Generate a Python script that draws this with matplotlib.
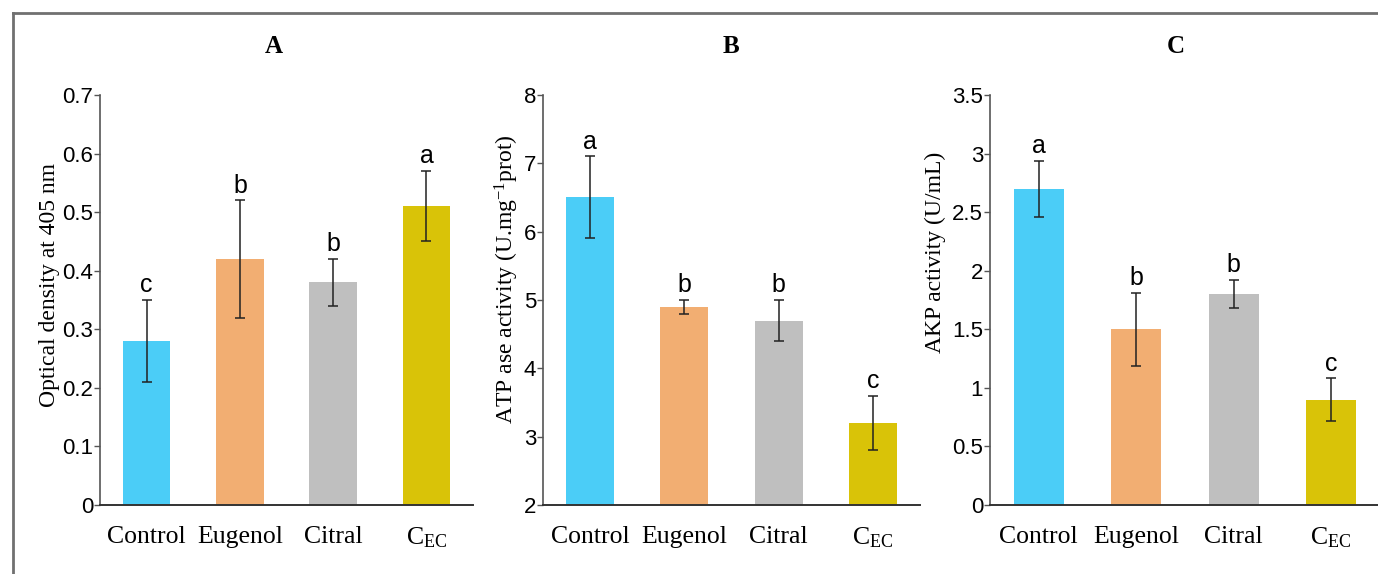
import numpy as np
import matplotlib
matplotlib.use("Agg")
import matplotlib.pyplot as plt
from matplotlib.lines import Line2D

plt.rcParams['mathtext.fontset'] = 'custom'
plt.rcParams['mathtext.rm'] = 'Liberation Serif'
plt.rcParams['mathtext.it'] = 'Liberation Serif:italic'

### data
groups = ['Control', 'Eugenol', 'Citral', 'C$_{\\mathrm{EC}}$']
colors = ['#4BCDF7', '#F2AE72', '#BFBFBF', '#D9C308']

od_mean = [0.28, 0.42, 0.38, 0.51]
od_err = [0.07, 0.10, 0.04, 0.06]
od_sig = ['c', 'b', 'b', 'a']

atp_mean = [6.5, 4.9, 4.7, 3.2]
atp_err = [0.6, 0.1, 0.3, 0.4]
atp_sig = ['a', 'b', 'b', 'c']

akp_mean = [2.7, 1.5, 1.8, 0.9]
akp_err = [0.24, 0.31, 0.12, 0.18]
akp_sig = ['a', 'b', 'b', 'c']

panels = [
    # title, mean, err, letters, ylabel, ylim, yticks, ticklabels, axes rect, title x, ylabel (x, y)
    ('A', od_mean, od_err, od_sig, 'Optical density at 405 nm', (0, 0.7),
     np.arange(0, 0.71, 0.1), ['0', '0.1', '0.2', '0.3', '0.4', '0.5', '0.6', '0.7'],
     [0.0726, 0.1202, 0.2707, 0.7143], 0.465, (-0.108, 0.537)),
    ('B', atp_mean, atp_err, atp_sig, 'ATP ase activity (U.mg$^{-1}$prot)', (2, 8),
     np.arange(2, 8.1, 1), ['2', '3', '4', '5', '6', '7', '8'],
     [0.3940, 0.1202, 0.2736, 0.7143], 0.5, (-0.058, 0.55)),
    ('C', akp_mean, akp_err, akp_sig, 'AKP activity (U/mL)', (0, 3.5),
     np.arange(0, 3.51, 0.5), ['0', '0.5', '1', '1.5', '2', '2.5', '3', '3.5'],
     [0.7184, 0.1202, 0.2830, 0.7143], 0.477, (-0.113, 0.615)),
]

fig = plt.figure(figsize=(13.78, 5.74), dpi=100)

# grey frame round the whole figure
fig.add_artist(Line2D([13 / 1378, 1.0], [1 - 13 / 574, 1 - 13 / 574],
                      transform=fig.transFigure, color='#707070', lw=2))
fig.add_artist(Line2D([13 / 1378, 13 / 1378], [0, 1 - 13 / 574],
                      transform=fig.transFigure, color='#707070', lw=2))

x = np.arange(len(groups))
for title, mean, err, sig, ylab, ylim, yt, ytl, rect, tx, lpos in panels:
    ax = fig.add_axes(rect)
    ax.bar(x, np.array(mean) - ylim[0], bottom=ylim[0], width=0.51, color=colors)
    ax.errorbar(x, mean, yerr=err, fmt='none', ecolor='#222222', elinewidth=1.1,
                capsize=3.5, capthick=1.1)
    for xi, m, e, s in zip(x, mean, err, sig):
        ax.annotate(s, (xi, m + e), xytext=(0, 2), textcoords='offset points',
                    ha='center', va='bottom', fontsize=18, family='Liberation Sans')
    ax.set_xlim(-0.5, 3.5)
    ax.set_ylim(*ylim)
    ax.set_yticks(yt)
    ax.set_yticklabels(ytl, family='Liberation Sans', fontsize=16)
    ax.set_xticks(x)
    ax.set_xticklabels(groups, family='Liberation Serif', fontsize=18.5)
    ax.tick_params(axis='x', length=0, pad=15)
    ax.tick_params(axis='y', length=4.5, width=1, pad=0.5, color='#555555')
    ax.set_ylabel(ylab, family='Liberation Serif', fontsize=17)
    ax.yaxis.set_label_coords(*lpos)
    ax.set_title(title, x=tx, pad=30, fontsize=18, fontweight='bold', family='Liberation Serif')
    for sp in ['top', 'right']:
        ax.spines[sp].set_visible(False)
    ax.spines['left'].set_color('#555555')
    ax.spines['bottom'].set_color('#333333')
    ax.spines['left'].set_linewidth(1.2)
    ax.spines['bottom'].set_linewidth(1.4)

fig.savefig('out.png', dpi=100)
